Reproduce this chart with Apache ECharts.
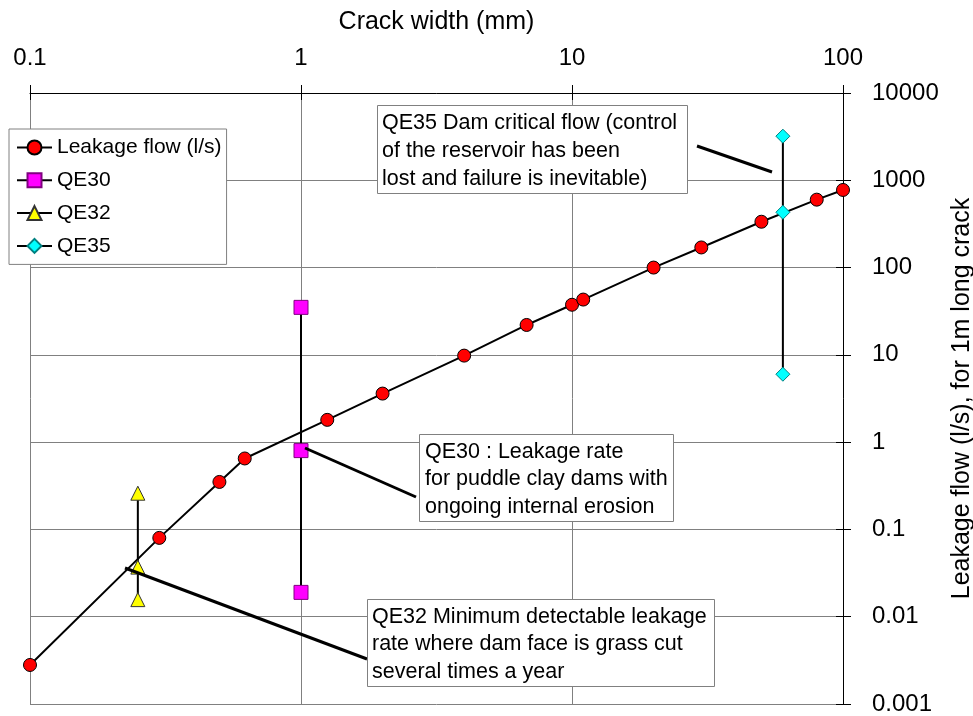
<!DOCTYPE html>
<html><head><meta charset="utf-8">
<script src="https://cdn.jsdelivr.net/npm/echarts@6/dist/echarts.min.js"></script>
<style>html,body{margin:0;padding:0;background:#fff}#c{width:973px;height:716px}</style>
</head><body><div id="c"></div>
<script>
// ---- data ----
const crackWidth = [0.1, 0.3, 0.5, 0.62, 1.25, 2, 4, 6.8, 10, 11, 20, 30, 50, 80, 100];
const leakageFlow = [0.0028, 0.08, 0.35, 0.65, 1.8, 3.6, 9.8, 22, 37.5, 43, 100, 170, 335, 600, 775];
const qe30Width = [1, 1, 1];
const qe30Flow = [35, 0.8, 0.019];
const qe32Width = [0.25, 0.25, 0.25];
const qe32Flow = [0.26, 0.037, 0.0157];
const qe35Width = [60, 60, 60];
const qe35Flow = [3200, 430, 6];
const seriesNames = ['Leakage flow (l/s)', 'QE30', 'QE32', 'QE35'];
const xTicks = [0.1, 1, 10, 100];
const xTickLabels = ['0.1', '1', '10', '100'];
const yTicks = [0.001, 0.01, 0.1, 1, 10, 100, 1000, 10000];
const yTickLabels = ['0.001', '0.01', '0.1', '1', '10', '100', '1000', '10000'];
const xTitle = 'Crack width (mm)';
const yTitle = 'Leakage flow (l/s), for 1m long crack';
const noteQE35 = ['QE35 Dam critical flow (control', 'of the reservoir has been', 'lost and failure is inevitable)'];
const noteQE30 = ['QE30 : Leakage rate', 'for puddle clay dams with', 'ongoing internal erosion'];
const noteQE32 = ['QE32 Minimum detectable leakage', 'rate where dam face is grass cut', 'several times a year'];

// ---- helpers ----
const FONT = '"Liberation Sans", Arial, sans-serif';
function pairs(xs, ys) { return xs.map((x, i) => [x, ys[i]]); }
function tickFmt(ticks, labels) {
  return function (v) {
    for (let i = 0; i < ticks.length; i++) {
      if (Math.abs(Math.log10(v) - Math.log10(ticks[i])) < 1e-6) return labels[i];
    }
    return '';
  };
}

// ---- layout (pixels) for annotations ----
const ANN_FONT = 21.5, ANN_LH = 27.7;
const boxes = [
  { lines: noteQE35, rect: [377.5, 105.5, 310, 88], textX: 382, textY: 109.5, line: [697, 146, 772, 172] },
  { lines: noteQE30, rect: [419.5, 434.5, 254, 87], textX: 425, textY: 438, line: [305, 448, 416, 497] },
  { lines: noteQE32, rect: [367.5, 599.5, 347, 87], textX: 372, textY: 603, line: [125, 568, 367, 659] }
];
const graphics = [];
boxes.forEach(b => {
  graphics.push({ type: 'line', z: 100, shape: { x1: b.line[0], y1: b.line[1], x2: b.line[2], y2: b.line[3] }, style: { stroke: '#000', lineWidth: 3 } });
  graphics.push({ type: 'rect', z: 101, shape: { x: b.rect[0], y: b.rect[1], width: b.rect[2], height: b.rect[3] }, style: { fill: '#fff', stroke: '#808080', lineWidth: 1 } });
  graphics.push({ type: 'text', z: 102, x: b.textX, y: b.textY, style: { text: b.lines.join('\n'), fontSize: ANN_FONT, fontFamily: FONT, lineHeight: ANN_LH, fill: '#000', verticalAlign: 'top', align: 'left' } });
});

const axisCommonX = { type: 'log', logBase: 10, position: 'top', min: 0.1, max: 100, splitNumber: 3 };
const axisCommonY = { type: 'log', logBase: 10, position: 'right', min: 0.001, max: 10000, splitNumber: 7 };

const option = {
  animation: false,
  backgroundColor: '#fff',
  textStyle: { fontFamily: FONT },
  grid: { left: 30, right: 130, top: 93, bottom: 12, containLabel: false, outerBoundsMode: 'none' },
  legend: {
    data: seriesNames, orient: 'vertical', left: 9, top: 129,
    padding: [8, 5, 8, 7], itemWidth: 35, itemHeight: 17.5, itemGap: 11.8,
    borderColor: '#808080', borderWidth: 1, backgroundColor: '#fff', z: 50,
    textStyle: { fontSize: 21, color: '#000', fontFamily: FONT }
  },
  xAxis: [
    Object.assign({}, axisCommonX, {
      axisLine: { show: true, lineStyle: { color: '#000', width: 1 } },
      axisTick: { show: true, length: 8, lineStyle: { color: '#000' } },
      axisLabel: { margin: 23, fontSize: 24, color: '#000', fontFamily: FONT, formatter: tickFmt(xTicks, xTickLabels) },
      splitLine: { show: true, lineStyle: { color: '#808080', width: 1 } },
      name: xTitle, nameLocation: 'middle', nameGap: 58,
      nameTextStyle: { fontSize: 25, color: '#000', fontFamily: FONT }
    }),
    Object.assign({}, axisCommonX, {
      axisLine: { show: false }, axisLabel: { show: false }, splitLine: { show: false },
      axisTick: { show: true, inside: true, length: 7, lineStyle: { color: '#000' } }
    })
  ],
  yAxis: [
    Object.assign({}, axisCommonY, {
      axisLine: { show: true, lineStyle: { color: '#000', width: 1 } },
      axisTick: { show: true, length: 8, lineStyle: { color: '#000' } },
      axisLabel: { margin: 29, fontSize: 24, color: '#000', fontFamily: FONT, formatter: tickFmt(yTicks, yTickLabels) },
      splitLine: { show: true, lineStyle: { color: '#808080', width: 1 } },
      name: yTitle, nameLocation: 'middle', nameRotate: 90, nameGap: 101,
      nameTextStyle: { fontSize: 25, color: '#000', fontFamily: FONT }
    }),
    Object.assign({}, axisCommonY, {
      axisLine: { show: false }, axisLabel: { show: false }, splitLine: { show: false },
      axisTick: { show: true, inside: true, length: 7, lineStyle: { color: '#000' } }
    })
  ],
  series: [
    { name: seriesNames[0], type: 'line', data: pairs(crackWidth, leakageFlow), symbol: 'circle', symbolSize: 13,
      itemStyle: { color: '#ff0000', borderColor: '#000', borderWidth: 1 }, lineStyle: { color: '#000', width: 2 }, z: 3 },
    { name: seriesNames[1], type: 'line', data: pairs(qe30Width, qe30Flow), symbol: 'rect', symbolSize: 14,
      itemStyle: { color: '#ff00ff', borderColor: '#800080', borderWidth: 1 }, lineStyle: { color: '#000', width: 2 }, z: 4 },
    { name: seriesNames[2], type: 'line', data: pairs(qe32Width, qe32Flow), symbol: 'triangle', symbolSize: 14,
      itemStyle: { color: '#ffff00', borderColor: '#333', borderWidth: 1 }, lineStyle: { color: '#000', width: 2 }, z: 4 },
    { name: seriesNames[3], type: 'line', data: pairs(qe35Width, qe35Flow), symbol: 'diamond', symbolSize: 14,
      itemStyle: { color: '#00ffff', borderColor: '#008080', borderWidth: 1 }, lineStyle: { color: '#000', width: 2 }, z: 4 }
  ],
  graphic: graphics
};

const chart = echarts.init(document.getElementById('c'), null, { renderer: 'canvas' });
chart.setOption(option);
</script>
</body></html>
